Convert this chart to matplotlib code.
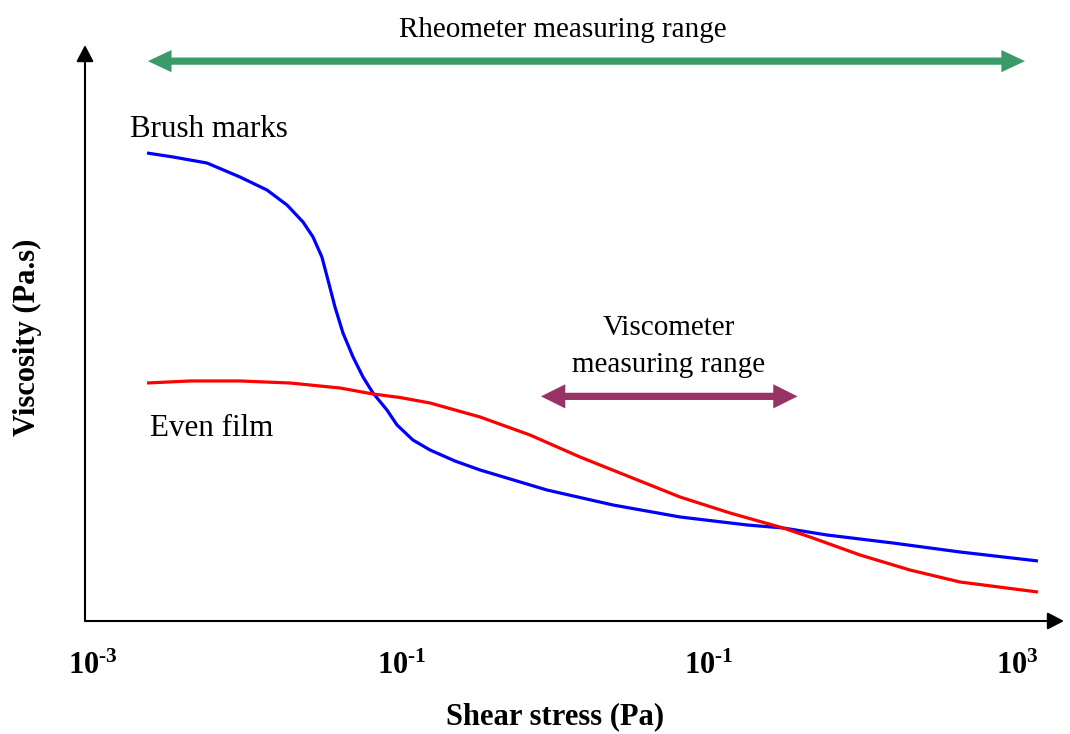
import matplotlib
matplotlib.use("Agg")
import matplotlib.pyplot as plt

# ---- data (shear stress in Pa, viscosity in arbitrary units) ----
brush_stress = [2.23e-3, 3.29e-3, 5.47e-3, 8.96e-3, 1.34e-2, 1.81e-2, 2.30e-2, 2.67e-2,
                3.05e-2, 3.34e-2, 3.71e-2, 4.18e-2, 4.86e-2, 5.64e-2, 6.55e-2, 8.07e-2,
                9.38e-2, 0.119, 0.1536, 0.2231, 0.3245, 0.884, 2.372, 6.46, 17.61, 30.2,
                58.3, 156.3, 425.7, 1367]
brush_visc = [81.25, 80.56, 79.51, 77.08, 74.83, 72.22, 69.27, 66.67,
              63.19, 59.20, 54.51, 50.0, 45.83, 42.36, 39.58, 36.63,
              34.03, 31.42, 29.69, 27.78, 26.22, 22.74, 20.14, 18.06, 16.67, 16.15,
              14.93, 13.54, 11.98, 10.42]

even_stress = [2.23e-3, 4.24e-3, 8.96e-3, 1.89e-2, 4.00e-2, 6.55e-2, 9.81e-2, 0.1536,
               0.3245, 0.6855, 1.448, 3.059, 6.46, 13.65, 30.2, 45.2, 95.4, 201.5,
               425.7, 1367]
even_visc = [41.32, 41.67, 41.67, 41.32, 40.45, 39.41, 38.80, 37.85,
             35.42, 32.29, 28.47, 25.0, 21.53, 18.75, 16.15, 14.58, 11.46, 8.85,
             6.77, 5.03]

tick_values = [1e-3, 1e-1, 1e1, 1e3]
tick_labels = [r"$\mathregular{10^{\text{-}3}}$", r"$\mathregular{10^{\text{-}1}}$",
               r"$\mathregular{10^{\text{-}1}}$", r"$\mathregular{10^{3}}$"]

SERIF = "Liberation Serif"
plt.rcParams["font.family"] = [SERIF, "DejaVu Serif"]
plt.rcParams["mathtext.fontset"] = "custom"
plt.rcParams["mathtext.rm"] = "Liberation Serif:bold"

W, H = 1070, 734
fig = plt.figure(figsize=(W / 100, H / 100), dpi=100)
ax = fig.add_axes([85 / W, (H - 621) / H, (1064 - 85) / W, (621 - 45) / H])
ax.set_xscale("log")
ax.set_xlim(8.82e-4, 2.017e3)
ax.set_ylim(0, 100)
ax.minorticks_off()

for s in ax.spines.values():
    s.set_visible(False)

# axes with arrow heads
axis_kw = dict(arrowstyle="-|>,head_length=0.5,head_width=0.26", color="black",
               lw=1.5, shrinkA=0, shrinkB=0, mutation_scale=20)
ax.annotate("", xy=(1, 0), xytext=(0, 0), xycoords="axes fraction",
            arrowprops=axis_kw, annotation_clip=False)
ax.annotate("", xy=(0, 1), xytext=(0, 0), xycoords="axes fraction",
            arrowprops=axis_kw, annotation_clip=False)

ax.plot(brush_stress, brush_visc, color="#0000ff", lw=2.3, solid_capstyle="butt",
        solid_joinstyle="round", clip_on=False)
ax.plot(even_stress, even_visc, color="#ff0000", lw=2.3, solid_capstyle="butt",
        solid_joinstyle="round", clip_on=False)

ax.set_yticks([])
ax.set_xticks(tick_values)
ax.set_xticklabels(tick_labels, fontsize=22, fontweight="bold", family=SERIF)
ax.tick_params(axis="x", length=0, pad=22)


def double_arrow(x0, x1, y, color, head_len, head_w, shaft_lw):
    """Double-headed arrow: filled heads without outline + separate thick shaft."""
    ax.annotate("", xy=(x1, y), xytext=(x0, y),
                arrowprops=dict(arrowstyle=f"<|-|>,head_length={head_len},head_width={head_w}",
                                color=color, lw=0, shrinkA=0, shrinkB=0,
                                mutation_scale=10),
                annotation_clip=False)
    shrink = head_len * 10 * 0.6
    ax.annotate("", xy=(x1, y), xytext=(x0, y),
                arrowprops=dict(arrowstyle="-", color=color, lw=shaft_lw,
                                shrinkA=shrink, shrinkB=shrink, capstyle="butt"),
                annotation_clip=False)


# range arrows
double_arrow(2.26e-3, 1125, 97.2, "#3a9a6a", 1.7, 0.8, 5.2)
double_arrow(0.808, 37.5, 39.0, "#993366", 1.75, 0.87, 5.2)

ax.text(1.12, 101.4, "Rheometer measuring range", fontsize=21, ha="center",
        va="baseline", clip_on=False)
ax.text(1.73e-3, 84.0, "Brush marks", fontsize=22.3, ha="left", va="baseline")
ax.text(2.33e-3, 32.2, "Even film", fontsize=22.3, ha="left", va="baseline")
ax.text(5.46, 49.6, "Viscometer", fontsize=21, ha="center", va="baseline")
ax.text(5.46, 43.3, "measuring range", fontsize=21, ha="center", va="baseline")

fig.text(555 / W, 1 - 717 / H, "Shear stress (Pa)", fontsize=22, fontweight="bold",
         ha="center", va="center")
fig.text(27 / W, 1 - 337 / H, "Viscosity (Pa.s)", fontsize=22, fontweight="bold",
         ha="center", va="center", rotation=90)

fig.savefig("out.png", dpi=100)
